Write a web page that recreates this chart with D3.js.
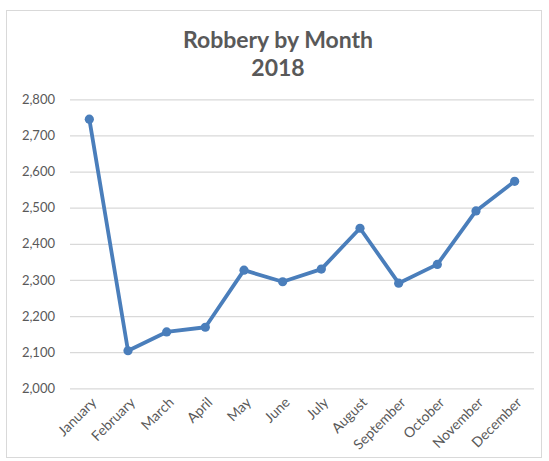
<!DOCTYPE html>
<html>
<head>
<meta charset="utf-8">
<script src="https://cdn.jsdelivr.net/npm/d3@7/dist/d3.min.js"></script>
<style>
  html, body { margin: 0; padding: 0; background: #ffffff; }
  svg { display: block; }
</style>
</head>
<body>
<svg id="chart" width="549" height="461"></svg>
<script>
// Monthly robbery counts, 2018
const months = ["January", "February", "March", "April", "May", "June",
                "July", "August", "September", "October", "November", "December"];
const robberies = [2745, 2104, 2156, 2169, 2327, 2295, 2330, 2443, 2291, 2343, 2491, 2573];
const yTicks = [2000, 2100, 2200, 2300, 2400, 2500, 2600, 2700, 2800];
const titleLines = ["Robbery by Month", "2018"];

const W = 549, H = 461;
const plot = { left: 70, right: 534, top: 99.3, bottom: 388.3 };
const textColor = "#595959";
const lineColor = "#4a7ebb";
const font = "Lato, 'Open Sans', sans-serif";

const svg = d3.select("#chart");

// chart area frame
svg.append("rect")
  .attr("x", 6.5).attr("y", 10.5)
  .attr("width", 535).attr("height", 447)
  .attr("fill", "#ffffff")
  .attr("stroke", "#d9d9d9")
  .attr("stroke-width", 1);

const x = d3.scaleBand().domain(months).range([plot.left, plot.right]);
const y = d3.scaleLinear().domain([2000, 2800]).range([plot.bottom, plot.top]);

// title
svg.append("g").selectAll("text")
  .data(titleLines)
  .join("text")
  .attr("x", 278)
  .attr("y", (d, i) => 48 + i * 27.5)
  .attr("text-anchor", "middle")
  .attr("font-family", font)
  .attr("font-weight", "bold")
  .attr("font-size", 23)
  .attr("fill", textColor)
  .text(d => d);

// value axis with horizontal gridlines
const yAxis = svg.append("g")
  .attr("transform", `translate(${plot.left},0)`)
  .call(d3.axisLeft(y).tickValues(yTicks).tickSize(-(plot.right - plot.left))
    .tickPadding(15).tickFormat(d3.format(",")));
yAxis.select(".domain").remove();
yAxis.selectAll(".tick line")
  .attr("stroke", "#d9d9d9").attr("stroke-width", 1.2);
yAxis.selectAll(".tick text")
  .attr("font-family", font).attr("font-size", 13).attr("fill", textColor);

// category axis with slanted month labels
const xAxis = svg.append("g")
  .attr("transform", `translate(0,${plot.bottom})`)
  .call(d3.axisBottom(x).tickSize(0).tickPadding(0));
xAxis.select(".domain").remove();
xAxis.selectAll(".tick text")
  .attr("font-family", font).attr("font-size", 14).attr("fill", textColor)
  .attr("text-anchor", "end")
  .attr("dy", "0")
  .attr("transform", "translate(8,15) rotate(-45)");

// series line and markers
const pts = months.map((m, i) => [x(m) + x.bandwidth() / 2, y(robberies[i])]);
svg.append("path")
  .attr("d", d3.line()(pts))
  .attr("fill", "none")
  .attr("stroke", lineColor)
  .attr("stroke-width", 3.8)
  .attr("stroke-linejoin", "round")
  .attr("stroke-linecap", "round");

svg.append("g").selectAll("circle")
  .data(pts)
  .join("circle")
  .attr("cx", d => d[0])
  .attr("cy", d => d[1])
  .attr("r", 4.6)
  .attr("fill", lineColor);
</script>
</body>
</html>
